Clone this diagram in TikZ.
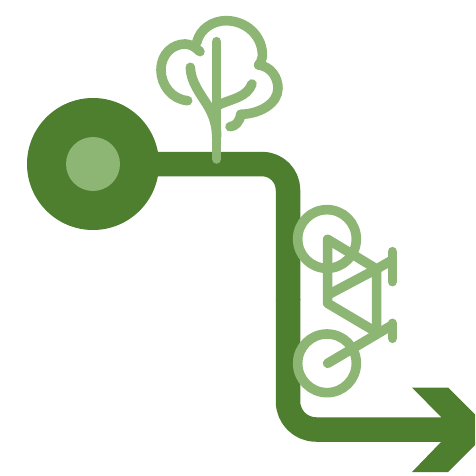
\documentclass[tikz,border=0pt]{standalone}
\definecolor{darkg}{HTML}{4E7F2E}
\definecolor{lightg}{HTML}{8DB573}
\tikzset{
  band/.style={draw=darkg,line width=24.5pt,line join=round},
  icon/.style={draw=lightg,line width=9.6pt,line cap=round,line join=round},
  zoomA/.style={shift={(150,10)},x=0.3333pt,y=-0.3333pt},
  zoomB/.style={shift={(280,195)},x=0.3333pt,y=-0.3333pt}
}
\begin{document}
\begin{tikzpicture}[x=1pt,y=-1pt]
\useasboundingbox (0,0) rectangle (475,476);
\clip (0,0) rectangle (475,476);
% route
\draw[band,rounded corners=26pt] (93,164) -- (288,164) -- (288,300);
\draw[band,rounded corners=28pt] (288,299) -- (288,429.5) -- (445,429.5);
\fill[darkg] (412,387.5) -- (448,387.5) -- (490.5,429.8) -- (448,472) -- (412,472) -- (441,442) -- (441,417) -- cycle;
\fill[darkg] (93,164) circle[radius=66];
\fill[lightg] (93,164) circle[radius=27];
% tree
\begin{scope}[zoomA]
\draw[icon] (113,272) .. controls (65,268) and (33,225) .. (33,180)
  .. controls (33,130) and (70,102) .. (105,102)
  .. controls (120,102) and (135,110) .. (150,125);
\draw[icon] (140,98) .. controls (150,55) and (190,32) .. (228,32)
  .. controls (290,32) and (340,80) .. (337,140)
  .. controls (336,150) and (332,158) .. (326,165)
  .. controls (365,170) and (384,205) .. (384,235)
  .. controls (384,280) and (330,312) .. (272,313)
  .. controls (270,335) and (255,350) .. (240,350);
\draw[icon] (200,447) -- (200,95);
\draw[icon] (121,172) .. controls (122,215) and (150,250) .. (172,285)
  .. controls (190,315) and (200,345) .. (200,380);
\draw[icon] (306,222) .. controls (290,262) and (250,265) .. (205,285);
\end{scope}
% bicycle
\begin{scope}[zoomB]
\draw[icon] (141,132) circle[radius=88];
\draw[icon] (141,505) circle[radius=88];
\draw[icon] (143,505) -- (337,390);
\draw[icon] (337,195) -- (290,222) -- (143,133) -- (143,325) -- (290,412);
\draw[icon] (143,300) -- (290,222) -- (290,400);
\draw[icon] (337,170) -- (337,260);
\draw[icon] (337,385) -- (337,430);
\end{scope}
\end{tikzpicture}
\end{document}
